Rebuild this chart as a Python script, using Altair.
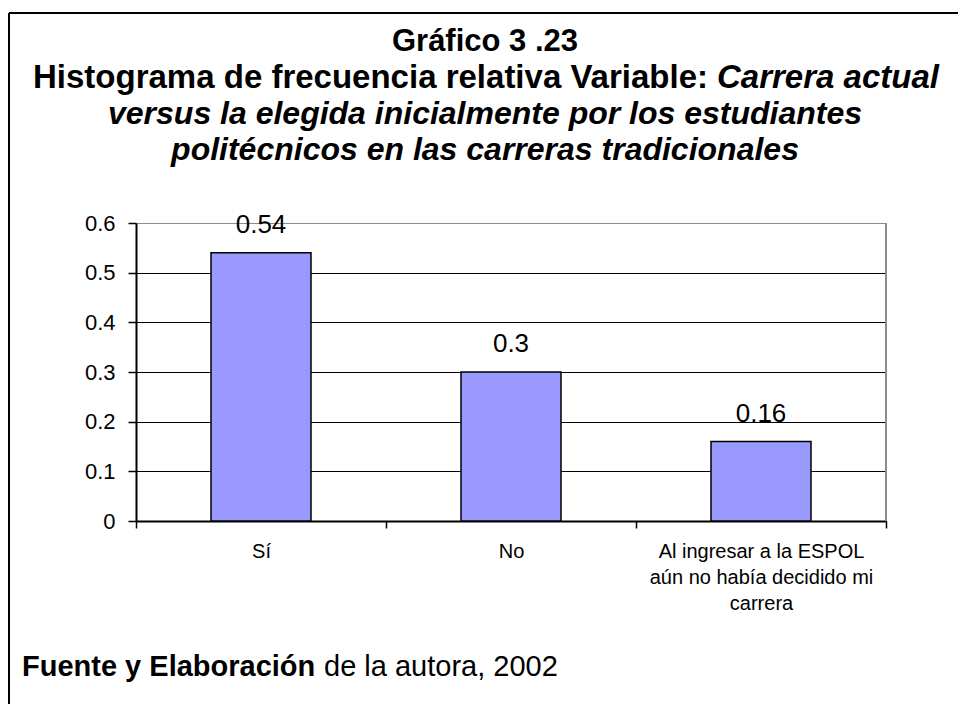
import altair as alt
import pandas as pd

FONT = "Liberation Sans"

categories = ["Sí", "No", "Al ingresar a la ESPOL|aún no había decidido mi|carrera"]
values = [0.54, 0.30, 0.16]
value_labels = ["0.54", "0.3", "0.16"]
y_ticks = [0, 0.1, 0.2, 0.3, 0.4, 0.5, 0.6]

title_line1 = "Gráfico 3 .23"
title_line2_bold = "Histograma de frecuencia relativa Variable:"
title_line2_italic = "Carrera actual"
title_line3 = "versus la elegida inicialmente por los estudiantes"
title_line4 = "politécnicos en las carreras tradicionales"
footer_bold = "Fuente y Elaboración"
footer_normal = "de la autora, 2002"

df = pd.DataFrame({"cat": categories, "val": values, "lab": value_labels})

W, H = 750, 298

x_enc = alt.X(
    "cat:N",
    sort=categories,
    scale=alt.Scale(paddingInner=0, paddingOuter=0),
    axis=alt.Axis(
        title=None,
        labelAngle=0,
        labelExpr="split(datum.label, '|')",
        labelFont=FONT,
        labelFontSize=20,
        labelColor="black",
        labelLineHeight=26,
        labelBaseline="top",
        labelPadding=13,
        labelLimit=0,
        tickBand="extent",
        tickSize=7,
        tickColor="black",
        tickWidth=1.5,
        domainColor="black",
        domainWidth=2,
        grid=False,
    ),
)

y_enc = alt.Y(
    "val:Q",
    scale=alt.Scale(domain=[0, 0.6], nice=False),
    axis=alt.Axis(
        title=None,
        values=y_ticks,
        format="~g",
        labelFont=FONT,
        labelFontSize=22,
        labelColor="black",
        labelPadding=13,
        tickSize=8,
        tickColor="black",
        tickWidth=1.5,
        domainColor="black",
        domainWidth=2,
        grid=True,
        gridColor={"condition": {"test": "datum.value >= 0.6", "value": "#8c8c8c"}, "value": "black"},
        gridWidth=1.2,
    ),
)

base = alt.Chart(df)

bars = base.mark_bar(
    width=alt.RelativeBandSize(0.4),
    color="#9999FF",
    stroke="black",
    strokeWidth=1.5,
).encode(x=x_enc, y=y_enc)

labels = base.mark_text(
    font=FONT, fontSize=26, color="black", baseline="middle", dy=-28
).encode(x=alt.X("cat:N", sort=categories), y="val:Q", text="lab:N")

one = alt.Data(values=[{}])


def note(text, x, y, size, weight="bold", style="normal", align="center"):
    return alt.Chart(one).mark_text(
        text=text, font=FONT, fontSize=size, fontWeight=weight, fontStyle=style,
        align=align, baseline="middle", color="black",
    ).encode(x=alt.value(x), y=alt.value(y))


right_border = alt.Chart(one).mark_rule(color="#8c8c8c", strokeWidth=2).encode(
    x=alt.value(W), y=alt.value(0), y2=alt.value(H)
)
frame_top = alt.Chart(one).mark_rule(color="black", strokeWidth=2).encode(
    x=alt.value(-127), x2=alt.value(830), y=alt.value(-210)
)
frame_left = alt.Chart(one).mark_rule(color="black", strokeWidth=2).encode(
    x=alt.value(-127), y=alt.value(-210), y2=alt.value(481)
)

cx = 349
layers = [
    bars,
    labels,
    right_border,
    frame_top,
    frame_left,
    note(title_line1, cx, -181, 31),
    note(title_line2_bold, 572, -145, 33, align="right"),
    note(title_line2_italic, 581, -145, 33, style="italic", align="left"),
    note(title_line3, cx, -109, 32, style="italic"),
    note(title_line4, cx, -73, 32, style="italic"),
    note(footer_bold, -114, 444, 29, align="left"),
    note(footer_normal, 188, 444, 29, weight="normal", align="left"),
]

chart = alt.layer(*layers).properties(
    width=W,
    height=H,
    autosize=alt.AutoSizeParams(type="none"),
    padding={"left": 128, "top": 215, "right": 72, "bottom": 183},
).configure_view(stroke=None).configure(background="white")

chart.save("out.html", embed_options={"renderer": "svg", "actions": False})
